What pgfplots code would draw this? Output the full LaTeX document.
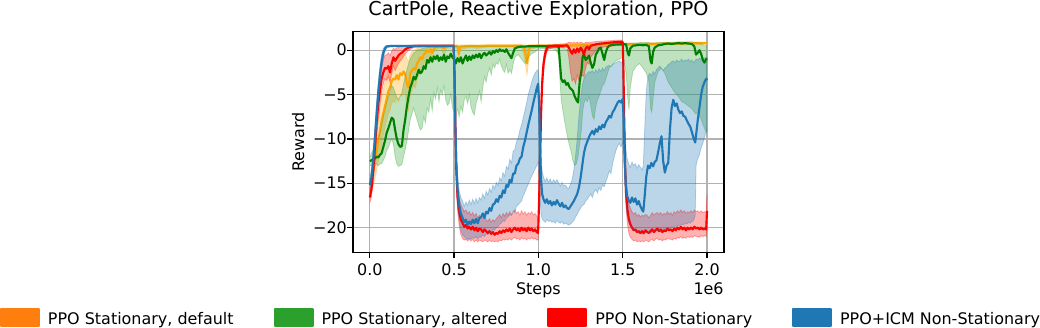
\documentclass[border=0pt]{standalone}
\usepackage{fontspec}
\setmainfont{DejaVu Sans}
\usepackage{pgfplots}
\usepackage{pgfplotstable}
\pgfplotsset{compat=1.18}
\usepgfplotslibrary{fillbetween}

\definecolor{lorange}{HTML}{FFA500}
\definecolor{lgreen}{HTML}{008000}
\definecolor{lred}{HTML}{FF0000}
\definecolor{tabblue}{HTML}{1F77B4}
\definecolor{taborange}{HTML}{FF7F0E}
\definecolor{tabgreen}{HTML}{2CA02C}

% x in units of 1e6 steps: x  mean  lower  upper
\pgfplotstableread{
x m lo hi
0.000 -15.5 -16.3 -14.7
0.010 -14.6 -15.8 -13.3
0.020 -13.6 -15.2 -11.9
0.030 -12.6 -14.5 -10.5
0.040 -11.5 -13.6 -9.2
0.050 -10.2 -12.5 -7.8
0.060 -9.1 -11.6 -6.5
0.070 -8.0 -10.6 -5.3
0.080 -7.1 -9.6 -4.4
0.090 -6.3 -8.8 -3.6
0.100 -5.5 -8.0 -2.9
0.110 -4.6 -7.2 -2.2
0.120 -4.2 -6.8 -1.7
0.130 -3.5 -6.0 -1.2
0.140 -3.2 -5.8 -0.9
0.150 -3.3 -5.9 -1.0
0.160 -2.8 -5.3 -0.7
0.170 -3.3 -5.8 -0.9
0.180 -2.6 -5.0 -0.5
0.190 -2.8 -5.2 -0.6
0.200 -2.4 -4.7 -0.3
0.210 -2.7 -5.0 -0.4
0.220 -3.8 -6.3 -1.0
0.230 -4.2 -6.8 -1.3
0.240 -2.6 -5.0 -0.4
0.250 -2.3 -4.5 -0.2
0.260 -2.0 -4.0 0.0
0.270 -2.2 -4.3 0.1
0.280 -1.5 -3.3 0.2
0.290 -1.2 -2.8 0.3
0.300 -0.8 -2.2 0.35
0.310 -1.0 -2.5 0.4
0.320 -0.5 -1.6 0.4
0.330 -0.3 -1.2 0.45
0.340 0.0 -0.7 0.5
0.350 -0.2 -1.0 0.5
0.360 0.1 -0.4 0.5
0.370 -0.3 -1.2 0.5
0.380 0.2 -0.2 0.55
0.400 0.4 0.1 0.55
0.420 0.45 0.25 0.6
0.440 0.2 -0.6 0.6
0.455 0.45 0.2 0.6
0.500 0.47 0.3 0.6
0.520 0.45 0.2 0.6
0.528 -0.4 -1.2 0.55
0.536 0.4 0.1 0.6
0.600 0.48 0.3 0.6
0.640 0.45 0.2 0.6
0.700 0.5 0.35 0.62
0.800 0.5 0.35 0.62
0.900 0.5 0.35 0.62
0.915 0.3 -0.5 0.62
0.925 -0.6 -1.8 0.6
0.932 -1.5 -2.8 0.5
0.940 -0.4 -1.5 0.6
0.950 0.45 0.1 0.62
1.000 0.5 0.35 0.65
1.200 0.55 0.4 0.7
1.400 0.62 0.48 0.76
1.600 0.68 0.55 0.82
1.800 0.74 0.6 0.88
2.000 0.8 0.66 0.92
}\torange

\pgfplotstableread{
x m lo hi
0.000 -12.5 -13.0 -12.0
0.010 -12.4 -13.0 -11.6
0.020 -12.3 -13.0 -11.2
0.030 -12.2 -13.0 -10.8
0.040 -12.0 -12.8 -10.2
0.050 -12.1 -13.0 -10.0
0.060 -11.8 -12.8 -9.4
0.070 -11.6 -12.8 -8.6
0.080 -10.9 -12.4 -7.5
0.090 -10.2 -12.0 -6.8
0.100 -9.3 -11.3 -5.9
0.110 -8.8 -11.0 -5.3
0.120 -8.2 -10.4 -4.6
0.130 -7.6 -10.0 -4.0
0.140 -7.8 -10.6 -4.2
0.150 -9.0 -12.0 -4.8
0.160 -10.0 -12.8 -5.3
0.170 -10.6 -13.1 -5.6
0.180 -10.9 -13.0 -5.2
0.190 -10.8 -12.9 -4.8
0.200 -9.0 -12.0 -3.8
0.210 -7.8 -11.2 -3.0
0.220 -6.3 -10.2 -2.2
0.230 -5.2 -9.0 -1.5
0.240 -4.2 -7.8 -1.0
0.250 -3.7 -7.2 -0.6
0.260 -3.0 -6.5 -0.3
0.270 -3.3 -7.2 -0.2
0.280 -2.8 -7.8 0.0
0.290 -2.2 -8.5 0.1
0.300 -2.6 -9.0 0.1
0.310 -2.4 -8.8 0.2
0.320 -1.8 -7.5 0.2
0.330 -2.1 -8.2 0.25
0.340 -1.1 -6.5 0.3
0.350 -1.4 -7.0 0.3
0.360 -0.8 -5.5 0.35
0.370 -1.3 -6.8 0.35
0.380 -0.7 -4.8 0.4
0.390 -1.0 -5.5 0.4
0.400 -0.6 -4.2 0.4
0.410 -1.2 -5.8 0.4
0.420 -0.8 -4.5 0.4
0.430 -1.1 -5.0 0.4
0.440 -0.5 -4.0 0.45
0.450 -1.3 -5.6 0.45
0.460 -0.7 -6.2 0.45
0.470 -0.9 -6.0 0.45
0.480 -0.4 -5.0 0.45
0.490 -0.8 -6.5 0.45
0.500 -1.0 -7.0 0.45
0.510 -1.5 -7.2 0.45
0.520 -0.9 -6.6 0.45
0.530 -1.3 -7.5 0.45
0.540 -0.8 -6.3 0.45
0.550 -1.5 -7.0 0.45
0.560 -1.0 -5.6 0.45
0.570 -0.6 -5.2 0.45
0.580 -1.2 -6.0 0.45
0.590 -0.7 -5.0 0.45
0.600 -1.1 -6.4 0.45
0.610 -0.6 -7.0 0.45
0.620 -0.9 -7.3 0.45
0.630 -0.5 -6.0 0.45
0.640 -0.8 -5.4 0.45
0.650 -0.4 -4.6 0.45
0.660 -0.9 -5.8 0.45
0.670 -0.5 -4.2 0.45
0.680 -0.3 -3.0 0.45
0.690 -0.6 -3.6 0.45
0.700 -0.4 -2.6 0.45
0.710 -0.2 -2.0 0.45
0.720 -0.5 -2.8 0.45
0.730 -0.1 -1.6 0.45
0.740 -0.3 -2.0 0.45
0.750 0.0 -1.4 0.45
0.760 -0.2 -1.6 0.45
0.770 0.1 -1.0 0.45
0.780 -0.1 -1.8 0.45
0.790 0.0 -2.2 0.45
0.800 -0.2 -2.5 0.45
0.810 0.1 -1.6 0.45
0.820 -0.3 -2.6 0.45
0.830 -0.6 -2.2 0.45
0.840 -0.9 -2.6 0.45
0.850 -0.3 -1.6 0.45
0.860 0.2 -0.8 0.5
0.880 0.35 -0.5 0.5
0.900 0.4 -1.0 0.5
0.920 0.4 -1.5 0.5
0.940 0.45 -0.8 0.5
0.960 0.45 -0.4 0.5
0.980 0.45 -0.2 0.5
1.000 0.45 0.1 0.5
1.050 0.45 0.2 0.55
1.100 0.45 0.1 0.55
1.120 0.4 -0.5 0.55
1.128 -1.5 -3.5 0.5
1.135 -3.2 -5.5 0.4
1.145 -3.6 -6.8 0.3
1.155 -3.4 -8.0 0.2
1.165 -3.9 -9.0 0.1
1.175 -3.7 -10.0 0.0
1.185 -4.2 -10.8 0.0
1.195 -4.4 -11.5 -0.1
1.205 -4.6 -12.5 -0.2
1.215 -5.2 -13.0 -0.3
1.225 -5.6 -12.8 -0.4
1.235 -5.9 -12.0 -0.3
1.245 -3.5 -10.5 0.0
1.255 -2.4 -9.0 0.2
1.262 -0.8 -7.0 0.4
1.270 -0.4 -6.0 0.5
1.280 -1.1 -5.5 0.5
1.290 -0.9 -5.8 0.5
1.300 -0.6 -5.2 0.55
1.310 -1.4 -6.2 0.55
1.320 -2.0 -7.4 0.55
1.330 -1.6 -7.8 0.6
1.340 -0.5 -6.4 0.6
1.350 -0.2 -5.6 0.6
1.360 0.2 -5.2 0.65
1.370 0.3 -4.6 0.65
1.380 -0.4 -4.0 0.65
1.390 -1.1 -3.8 0.65
1.400 -0.2 -3.2 0.65
1.410 0.3 -2.6 0.7
1.420 0.5 -2.0 0.7
1.440 0.6 -1.6 0.75
1.460 0.65 -1.2 0.75
1.480 0.65 -1.0 0.8
1.500 0.7 -0.8 0.8
1.520 0.65 -2.5 0.8
1.530 -0.3 -5.5 0.8
1.537 -0.6 -6.7 0.75
1.545 0.2 -4.2 0.8
1.560 0.5 -2.4 0.8
1.580 0.55 -1.8 0.8
1.600 0.6 -1.5 0.85
1.620 0.55 -2.0 0.85
1.640 0.6 -2.6 0.85
1.655 0.45 -3.5 0.85
1.665 -1.2 -6.5 0.8
1.672 -1.5 -7.0 0.7
1.680 -0.2 -5.5 0.75
1.690 0.3 -3.6 0.8
1.710 0.55 -2.4 0.85
1.730 0.6 -2.0 0.85
1.750 0.7 -2.6 0.9
1.770 0.75 -3.6 0.9
1.790 0.7 -4.2 0.9
1.810 0.75 -4.8 0.9
1.830 0.8 -5.2 0.95
1.850 0.75 -5.8 0.95
1.870 0.8 -6.0 0.95
1.890 0.75 -6.3 0.95
1.910 0.7 -6.6 0.95
1.925 0.4 -7.0 0.9
1.935 -0.5 -7.2 0.85
1.945 -0.3 -7.0 0.8
1.955 0.0 -7.4 0.8
1.965 -0.4 -7.8 0.7
1.975 -1.1 -8.3 0.6
1.985 -1.4 -8.8 0.5
1.995 -1.0 -9.2 0.5
2.000 -1.1 -9.3 0.5
}\tgreen

\pgfplotstableread{
x m lo hi
0.000 -16.6 -17.2 -16.0
0.010 -15.6 -16.5 -14.6
0.020 -13.6 -15.0 -12.2
0.030 -11.0 -12.8 -9.3
0.040 -8.2 -10.0 -6.5
0.050 -6.1 -7.8 -4.4
0.060 -4.6 -6.2 -3.0
0.070 -3.2 -4.7 -1.8
0.080 -2.5 -3.8 -1.1
0.090 -2.0 -3.2 -0.6
0.100 -2.1 -3.4 -0.5
0.110 -1.8 -3.0 -0.3
0.120 -2.5 -3.6 -0.6
0.130 -1.5 -2.6 -0.1
0.140 -0.8 -1.8 0.2
0.150 -1.2 -2.3 0.1
0.160 -0.9 -1.9 0.3
0.170 -0.6 -1.5 0.3
0.180 -0.4 -1.2 0.4
0.190 -0.3 -1.0 0.4
0.200 -0.1 -0.7 0.45
0.210 0.1 -0.4 0.5
0.230 0.3 0.0 0.55
0.260 0.45 0.3 0.6
0.300 0.47 0.35 0.6
0.497 0.48 0.38 0.6
0.503 -3.0 -4.5 -1.5
0.508 -9.0 -10.5 -7.5
0.513 -13.5 -15.0 -12.0
0.520 -16.5 -18.0 -15.0
0.530 -18.3 -19.8 -16.7
0.540 -19.1 -20.8 -17.4
0.550 -19.5 -21.2 -17.8
0.560 -19.9 -21.4 -18.2
0.570 -19.7 -21.3 -18.0
0.580 -20.1 -21.5 -18.4
0.590 -19.9 -21.3 -18.2
0.600 -20.2 -21.5 -18.6
0.610 -19.9 -21.3 -18.3
0.620 -20.3 -21.6 -18.7
0.630 -20.0 -21.4 -18.4
0.640 -20.4 -21.6 -18.9
0.650 -20.1 -21.4 -18.6
0.660 -20.2 -21.5 -18.8
0.670 -20.5 -21.6 -19.0
0.680 -20.2 -21.4 -18.7
0.690 -20.4 -21.5 -19.1
0.700 -20.6 -21.6 -19.3
0.710 -20.4 -21.4 -19.0
0.720 -20.7 -21.6 -19.4
0.730 -20.5 -21.5 -19.1
0.740 -20.8 -21.6 -19.3
0.750 -20.6 -21.5 -19.0
0.760 -20.7 -21.6 -18.8
0.770 -20.4 -21.4 -18.5
0.780 -20.6 -21.5 -18.9
0.790 -20.3 -21.3 -18.4
0.800 -20.5 -21.4 -18.7
0.810 -20.2 -21.3 -18.3
0.820 -20.4 -21.4 -18.6
0.830 -20.1 -21.2 -18.2
0.840 -20.5 -21.4 -18.6
0.850 -20.2 -21.2 -18.3
0.860 -20.0 -21.1 -18.0
0.870 -20.3 -21.3 -18.4
0.880 -20.1 -21.2 -18.2
0.890 -20.4 -21.4 -18.6
0.900 -20.0 -21.1 -18.1
0.910 -20.3 -21.3 -18.5
0.920 -20.1 -21.2 -18.2
0.930 -20.4 -21.4 -18.6
0.940 -20.0 -21.2 -18.3
0.950 -20.3 -21.3 -18.5
0.960 -20.1 -21.1 -18.2
0.970 -20.4 -21.3 -18.6
0.980 -20.2 -21.2 -18.4
0.990 -20.5 -21.4 -18.7
0.998 -20.6 -21.4 -18.8
1.004 -17.0 -19.0 -15.0
1.010 -12.0 -14.0 -10.0
1.016 -7.0 -8.8 -5.2
1.022 -3.8 -5.0 -2.6
1.030 -1.6 -2.5 -0.8
1.040 -0.4 -1.0 0.2
1.050 0.2 -0.2 0.5
1.060 0.4 0.1 0.6
1.080 0.45 0.25 0.6
1.100 0.5 0.3 0.65
1.150 0.5 0.3 0.7
1.170 0.55 0.3 0.8
1.180 0.3 -0.8 0.9
1.190 -0.1 -2.5 0.9
1.200 -0.4 -3.5 0.8
1.210 0.1 -3.2 0.9
1.220 -0.3 -3.8 0.8
1.230 0.2 -2.8 0.9
1.240 -0.2 -3.4 0.8
1.250 0.3 -2.5 0.9
1.260 0.0 -2.8 0.85
1.270 -0.5 -3.0 0.7
1.280 0.2 -2.0 0.9
1.290 0.4 -1.4 0.9
1.300 0.1 -1.6 0.85
1.310 0.5 -0.8 0.9
1.330 0.6 -0.3 0.95
1.350 0.7 0.2 1.0
1.400 0.8 0.4 1.05
1.450 0.9 0.5 1.1
1.490 0.95 0.55 1.15
1.500 0.9 0.5 1.1
1.504 -2.0 -3.5 -0.5
1.509 -8.0 -9.5 -6.5
1.514 -13.0 -14.5 -11.5
1.520 -16.2 -17.8 -14.6
1.528 -18.0 -19.6 -16.4
1.536 -19.0 -20.6 -17.3
1.545 -19.6 -21.1 -17.8
1.555 -20.0 -21.3 -18.2
1.565 -20.3 -21.5 -18.5
1.575 -20.2 -21.4 -18.3
1.585 -20.5 -21.6 -18.7
1.595 -20.4 -21.5 -18.5
1.605 -20.6 -21.6 -18.8
1.615 -20.4 -21.5 -18.6
1.625 -20.6 -21.6 -18.7
1.635 -20.3 -21.4 -18.5
1.645 -20.5 -21.5 -18.6
1.655 -20.6 -21.6 -18.9
1.665 -20.4 -21.4 -18.6
1.675 -20.2 -21.3 -18.3
1.685 -20.5 -21.5 -18.6
1.695 -20.3 -21.3 -18.4
1.705 -20.1 -21.2 -18.3
1.715 -20.4 -21.4 -18.5
1.725 -20.2 -21.3 -18.3
1.735 -20.5 -21.5 -18.6
1.745 -20.3 -21.3 -18.4
1.755 -20.4 -21.4 -18.5
1.765 -20.1 -21.2 -18.2
1.775 -20.3 -21.3 -18.5
1.785 -20.2 -21.3 -18.3
1.795 -20.4 -21.4 -18.6
1.805 -20.1 -21.2 -18.2
1.815 -20.3 -21.3 -18.4
1.825 -20.0 -21.1 -18.1
1.835 -20.2 -21.2 -18.3
1.845 -19.9 -21.0 -18.0
1.855 -20.2 -21.2 -18.3
1.865 -20.0 -21.1 -18.1
1.875 -20.3 -21.2 -18.4
1.885 -20.0 -21.0 -18.2
1.895 -20.2 -21.1 -18.3
1.905 -20.0 -21.0 -18.1
1.915 -20.2 -21.1 -18.3
1.925 -19.9 -20.9 -18.0
1.935 -20.1 -21.0 -18.2
1.945 -20.0 -21.0 -18.1
1.955 -20.2 -21.1 -18.3
1.965 -20.0 -20.9 -18.1
1.975 -20.2 -21.0 -18.3
1.985 -20.1 -20.9 -18.2
1.995 -20.2 -21.0 -18.3
2.000 -18.1 -20.0 -16.3
}\tred

\pgfplotstableread{
x m lo hi
0.000 -15.2 -15.8 -14.6
0.010 -14.3 -15.0 -13.4
0.020 -12.5 -13.5 -11.3
0.030 -10.0 -11.2 -8.6
0.040 -7.3 -8.6 -5.9
0.050 -4.8 -6.0 -3.6
0.060 -2.8 -3.9 -1.8
0.070 -1.3 -2.2 -0.5
0.080 -0.3 -1.0 0.2
0.090 0.2 -0.2 0.45
0.100 0.42 0.25 0.55
0.120 0.47 0.38 0.55
0.150 0.48 0.42 0.55
0.200 0.48 0.42 0.56
0.300 0.48 0.42 0.56
0.400 0.48 0.42 0.56
0.497 0.48 0.42 0.56
0.503 -3.0 -4.0 -1.5
0.507 -8.0 -9.5 -6.5
0.512 -12.5 -14.0 -11.0
0.520 -15.6 -17.2 -14.0
0.530 -17.4 -19.2 -15.8
0.540 -18.4 -20.3 -16.6
0.550 -18.9 -20.8 -17.0
0.560 -19.4 -21.0 -17.6
0.570 -19.1 -21.2 -17.1
0.580 -19.7 -21.3 -17.5
0.590 -19.3 -21.2 -16.9
0.600 -19.6 -21.3 -17.4
0.610 -19.1 -21.1 -16.8
0.620 -19.5 -21.2 -17.3
0.630 -19.0 -21.0 -16.7
0.640 -19.5 -21.3 -17.2
0.650 -18.9 -21.0 -16.6
0.660 -18.8 -21.1 -16.9
0.670 -18.4 -20.8 -16.2
0.680 -18.9 -21.0 -16.7
0.690 -18.2 -20.7 -15.9
0.700 -18.4 -20.8 -16.3
0.710 -17.8 -20.5 -15.6
0.720 -18.1 -20.6 -16.0
0.730 -17.4 -20.2 -15.2
0.740 -17.3 -20.3 -15.6
0.750 -16.8 -20.0 -14.9
0.760 -17.1 -19.9 -15.3
0.770 -16.4 -19.6 -14.4
0.780 -16.6 -19.5 -14.7
0.790 -15.8 -19.2 -13.8
0.800 -16.1 -19.3 -14.2
0.810 -15.2 -18.9 -13.1
0.820 -15.4 -18.8 -13.4
0.830 -14.6 -18.5 -12.3
0.840 -14.9 -18.6 -12.7
0.850 -13.9 -18.1 -11.4
0.860 -13.9 -18.3 -11.2
0.870 -13.0 -17.6 -10.3
0.880 -12.8 -17.4 -9.9
0.890 -12.2 -17.2 -9.0
0.900 -12.0 -17.0 -8.4
0.910 -10.9 -16.4 -7.6
0.920 -10.2 -16.0 -6.8
0.930 -9.3 -15.5 -5.9
0.940 -8.4 -15.1 -5.0
0.950 -7.6 -14.6 -4.3
0.960 -6.8 -14.2 -3.6
0.970 -5.9 -13.8 -3.0
0.980 -5.1 -13.4 -2.6
0.990 -4.3 -13.0 -2.3
0.998 -3.8 -12.6 -2.2
1.004 -6.0 -14.0 -3.5
1.010 -11.0 -17.0 -8.0
1.016 -14.6 -18.5 -12.0
1.022 -16.2 -19.0 -13.6
1.030 -16.8 -19.2 -14.3
1.040 -17.2 -19.4 -14.8
1.050 -16.8 -19.1 -14.4
1.060 -17.3 -19.3 -14.9
1.070 -17.0 -19.2 -14.5
1.080 -17.5 -19.4 -15.0
1.090 -17.1 -19.3 -14.6
1.100 -17.4 -19.5 -14.9
1.110 -16.9 -19.2 -14.6
1.120 -17.3 -19.4 -15.0
1.130 -17.6 -19.5 -15.3
1.140 -17.2 -19.3 -14.9
1.150 -17.7 -19.6 -15.3
1.160 -17.5 -19.5 -15.2
1.170 -17.8 -19.6 -15.5
1.180 -17.9 -19.7 -15.6
1.190 -17.6 -19.6 -15.1
1.200 -17.3 -19.4 -14.6
1.210 -17.0 -19.2 -13.5
1.220 -16.6 -18.8 -12.0
1.230 -16.2 -18.5 -10.0
1.240 -15.5 -18.1 -7.5
1.250 -14.4 -17.8 -5.5
1.260 -13.0 -17.5 -4.0
1.270 -11.6 -17.4 -3.2
1.280 -10.8 -17.0 -2.8
1.290 -10.3 -16.8 -2.6
1.300 -9.8 -16.5 -2.4
1.310 -9.4 -16.2 -2.5
1.320 -9.1 -16.6 -2.3
1.330 -9.5 -16.0 -2.6
1.340 -8.9 -15.7 -2.2
1.350 -9.2 -16.1 -2.5
1.360 -8.6 -15.5 -2.1
1.370 -8.9 -15.8 -2.4
1.380 -8.4 -15.2 -2.0
1.390 -8.7 -15.4 -2.3
1.400 -8.1 -14.8 -1.9
1.410 -7.8 -14.3 -1.8
1.420 -7.4 -13.6 -1.7
1.430 -7.6 -13.9 -1.9
1.440 -7.0 -12.8 -1.6
1.450 -6.7 -12.0 -1.5
1.460 -6.3 -11.3 -1.4
1.470 -5.9 -10.8 -1.3
1.480 -5.7 -10.5 -1.2
1.490 -5.9 -10.9 -1.4
1.500 -5.5 -10.4 -1.3
1.506 -8.0 -12.0 -4.5
1.512 -12.5 -15.0 -8.5
1.518 -15.0 -17.0 -11.0
1.526 -16.4 -18.6 -12.2
1.535 -16.9 -19.4 -12.8
1.545 -17.2 -19.8 -13.2
1.555 -16.6 -20.1 -12.6
1.565 -17.1 -20.3 -13.0
1.575 -16.7 -20.4 -12.8
1.585 -17.4 -20.5 -13.3
1.595 -17.0 -20.6 -12.9
1.605 -17.6 -20.7 -13.2
1.615 -18.0 -20.7 -13.5
1.622 -18.2 -20.8 -13.0
1.630 -16.5 -20.6 -9.0
1.640 -14.2 -20.5 -4.5
1.650 -13.0 -20.6 -3.0
1.660 -13.3 -20.5 -2.6
1.670 -12.7 -20.6 -2.9
1.680 -13.1 -20.4 -2.4
1.690 -12.6 -20.5 -2.7
1.700 -12.4 -20.3 -2.2
1.710 -11.5 -20.4 -2.0
1.720 -10.5 -20.2 -1.8
1.730 -9.7 -20.3 -2.1
1.740 -12.5 -20.2 -2.3
1.750 -13.8 -20.1 -2.0
1.760 -13.0 -20.2 -1.9
1.770 -12.7 -20.0 -1.6
1.780 -9.0 -20.1 -1.5
1.790 -6.5 -19.9 -1.3
1.800 -5.6 -20.0 -1.2
1.810 -6.3 -19.8 -1.4
1.820 -6.0 -19.9 -1.1
1.830 -6.7 -19.7 -1.3
1.840 -7.1 -19.8 -1.2
1.850 -6.9 -19.6 -1.0
1.860 -7.4 -19.7 -1.3
1.870 -7.5 -19.5 -1.1
1.880 -7.9 -19.6 -1.2
1.890 -8.3 -19.4 -1.0
1.900 -8.6 -19.5 -1.3
1.910 -9.2 -19.3 -1.1
1.920 -9.9 -19.2 -1.4
1.930 -10.4 -18.6 -1.2
1.935 -9.6 -13.0 -1.0
1.945 -7.9 -12.2 -1.1
1.955 -6.5 -11.8 -0.9
1.965 -5.0 -11.0 -1.0
1.975 -4.1 -10.5 -0.8
1.985 -3.6 -9.8 -0.9
1.995 -3.2 -9.2 -0.8
2.000 -3.4 -9.0 -0.8
}\tblue

\begin{document}
\begin{tikzpicture}
\begin{axis}[
  at={(265.5pt,56pt)}, anchor=south west,
  width=279pt, height=166.2pt, scale only axis,
  xmin=-0.1, xmax=2.1, ymin=-22.81, ymax=2.09,
  font=\fontsize{12}{14.4}\selectfont,
  xtick={0,0.5,1,1.5,2}, xticklabels={0.0,0.5,1.0,1.5,2.0},
  ytick={-20,-15,-10,-5,0}, yticklabels={−20,−15,−10,−5,0},
  tick align=outside, major tick length=4.2pt,
  tick style={black, line width=0.96pt},
  axis line style={line width=0.96pt},
  xtick pos=bottom, ytick pos=left,
  grid=major, grid style={color=black!30, line width=0.96pt},
  xticklabel style={anchor=base, inner sep=0pt, yshift=-12.8pt},
  yticklabel style={anchor=east, inner sep=0pt, xshift=-0.2pt},
  xlabel={Steps}, ylabel={Reward},
  xlabel style={at={(axis description cs:0.5,0)}, anchor=base, inner sep=0pt, yshift=-31.6pt},
  ylabel style={at={(axis description cs:-0.13172,0.5)}, anchor=base, inner sep=0pt},
  title={CartPole, Reactive Exploration, PPO},
  title style={at={(axis description cs:0.5,1)}, anchor=base, inner sep=0pt, yshift=6.2pt, font=\fontsize{14.4}{17}\selectfont},
  legend columns=4,
  legend style={at={(axis description cs:-0.951613,-0.251203)}, anchor=north west,
    draw=none, fill=none, inner sep=0pt, outer sep=0pt,
    cells={anchor=base west}, nodes={inner sep=0pt},
    /tikz/every odd column/.append style={column sep=6pt},
    /tikz/every even column/.append style={column sep=30pt}},
]
% orange
\addplot[name path=olo, draw=lorange, draw opacity=0.3, line width=0.6pt, forget plot] table[x=x,y=lo]{\torange};
\addplot[name path=ohi, draw=lorange, draw opacity=0.3, line width=0.6pt, forget plot] table[x=x,y=hi]{\torange};
\addplot[fill=lorange, fill opacity=0.3, draw=none, forget plot] fill between[of=olo and ohi];
\addplot[lorange, line width=1.6pt, line join=round,
  legend image code/.code={\fill[taborange] (0pt,-1.3pt) rectangle (28.5pt,11.45pt);}]
  table[x=x,y=m]{\torange};
\addlegendentry{PPO Stationary, default}
% green
\addplot[name path=glo, draw=tabgreen, draw opacity=0.3, line width=0.6pt, forget plot] table[x=x,y=lo]{\tgreen};
\addplot[name path=ghi, draw=tabgreen, draw opacity=0.3, line width=0.6pt, forget plot] table[x=x,y=hi]{\tgreen};
\addplot[fill=tabgreen, fill opacity=0.3, draw=none, forget plot] fill between[of=glo and ghi];
\addplot[lgreen, line width=1.6pt, line join=round,
  legend image code/.code={\fill[tabgreen] (0pt,-1.3pt) rectangle (28.5pt,11.45pt);}]
  table[x=x,y=m]{\tgreen};
\addlegendentry{PPO Stationary, altered}
% red
\addplot[name path=rlo, draw=lred, draw opacity=0.3, line width=0.6pt, forget plot] table[x=x,y=lo]{\tred};
\addplot[name path=rhi, draw=lred, draw opacity=0.3, line width=0.6pt, forget plot] table[x=x,y=hi]{\tred};
\addplot[fill=lred, fill opacity=0.3, draw=none, forget plot] fill between[of=rlo and rhi];
\addplot[lred, line width=1.6pt, line join=round,
  legend image code/.code={\fill[lred] (0pt,-1.3pt) rectangle (28.5pt,11.45pt);}]
  table[x=x,y=m]{\tred};
\addlegendentry{PPO Non-Stationary}
% blue
\addplot[name path=blo, draw=tabblue, draw opacity=0.3, line width=0.6pt, forget plot] table[x=x,y=lo]{\tblue};
\addplot[name path=bhi, draw=tabblue, draw opacity=0.3, line width=0.6pt, forget plot] table[x=x,y=hi]{\tblue};
\addplot[fill=tabblue, fill opacity=0.3, draw=none, forget plot] fill between[of=blo and bhi];
\addplot[tabblue, line width=1.6pt, line join=round,
  legend image code/.code={\fill[tabblue] (0pt,-1.3pt) rectangle (28.5pt,11.45pt);}]
  table[x=x,y=m]{\tblue};
\addlegendentry{PPO+ICM Non-Stationary}
\end{axis}
\node[anchor=base east, inner sep=0pt, font=\fontsize{12}{14.4}\selectfont] at (544.5pt,24.6pt) {1e6};
\path (0,0) rectangle (780pt,246pt);
\end{tikzpicture}
\end{document}
